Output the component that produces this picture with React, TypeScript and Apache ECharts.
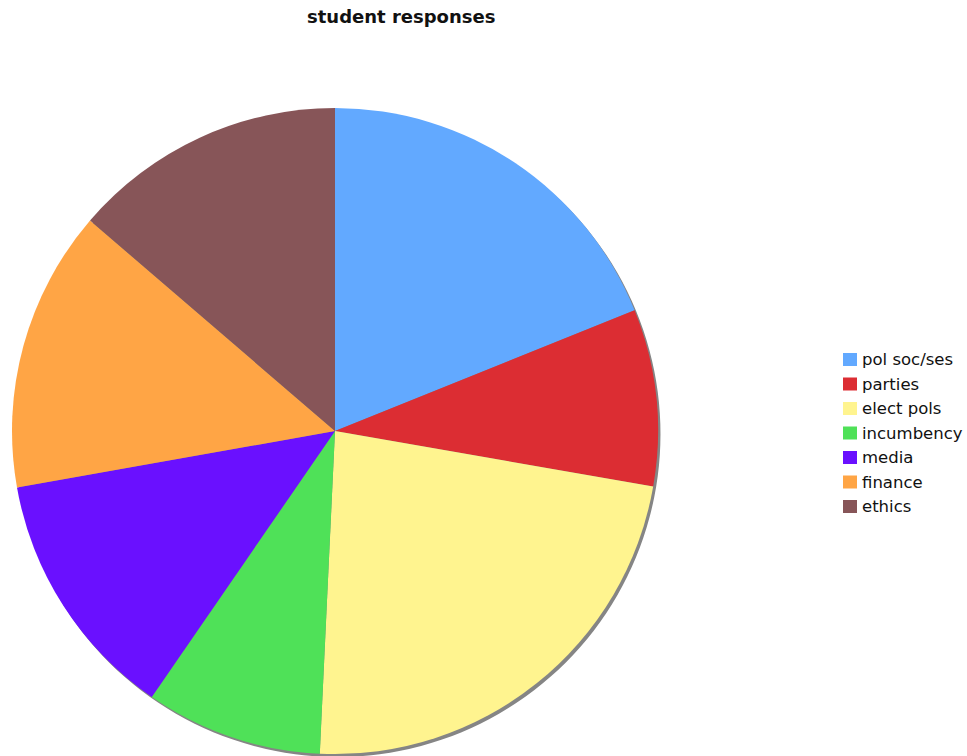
import React, { useEffect, useRef } from "react";
import * as echarts from "echarts";

const titleText = "student responses";
const categories = ["pol soc/ses", "parties", "elect pols", "incumbency", "media", "finance", "ethics"];
const values = [18.9, 8.85, 23.0, 8.85, 12.6, 14.1, 13.7];
const colors = ["#62a9ff", "#dc2d33", "#fff48f", "#4fe158", "#6a10ff", "#ffa545", "#875558"];

export default function App() {
  const ref = useRef<HTMLDivElement>(null);
  useEffect(() => {
    if (!ref.current) return;
    const chart = echarts.init(ref.current, null, { renderer: "svg" });
    const data = categories.map((name, i) => ({
      name,
      value: values[i],
      itemStyle: { color: colors[i] },
    }));
    chart.setOption({
      animation: false,
      backgroundColor: "#ffffff",
      title: {
        text: titleText,
        left: 302,
        top: 2,
        textStyle: {
          fontFamily: "DejaVu Sans",
          fontSize: 18,
          fontWeight: "bold",
          color: "#111111",
        },
      },
      legend: {
        orient: "vertical",
        left: 838,
        top: 346,
        itemWidth: 14,
        itemHeight: 13,
        itemGap: 7.5,
        icon: "rect",
        data: categories,
        textStyle: {
          fontFamily: "DejaVu Sans",
          fontSize: 16.5,
          lineHeight: 16,
          color: "#111111",
        },
      },
      series: [
        {
          type: "pie",
          silent: true,
          center: [337.5, 434],
          radius: 323,
          label: { show: false },
          labelLine: { show: false },
          legendHoverLink: false,
          data: [{ name: "", value: 1, itemStyle: { color: "#858585" } }],
          z: 1,
        },
        {
          type: "pie",
          center: [335, 431],
          radius: 323,
          startAngle: 90,
          clockwise: true,
          label: { show: false },
          labelLine: { show: false },
          itemStyle: { borderWidth: 0 },
          emphasis: { disabled: true },
          data,
          z: 2,
        },
      ],
    });
    return () => chart.dispose();
  }, []);
  return (
    <div
      ref={ref}
      style={{ position: "absolute", left: 0, top: 0, width: 967, height: 756 }}
    />
  );
}
